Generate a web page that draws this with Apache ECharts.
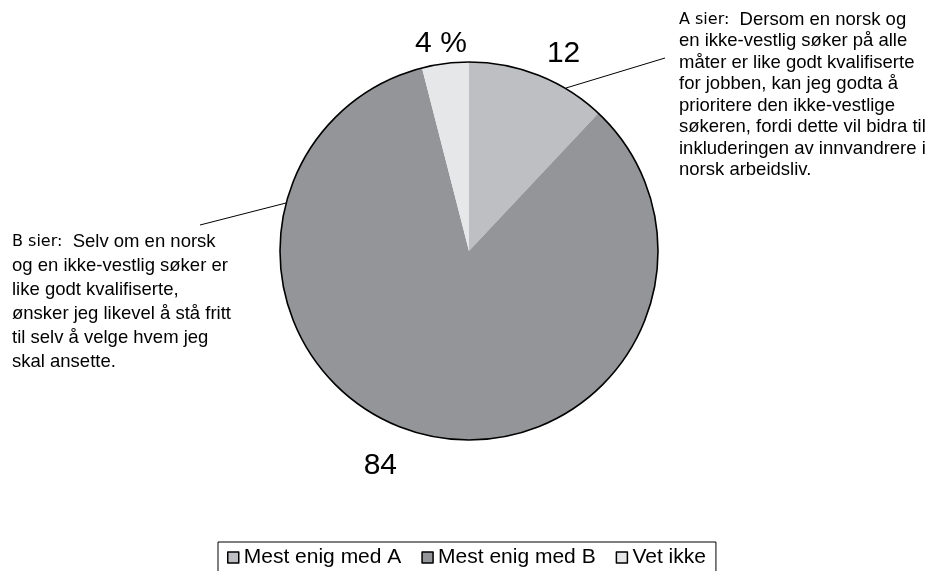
<!DOCTYPE html>
<html>
<head>
<meta charset="utf-8">
<style>
  html, body { margin: 0; padding: 0; background: #fff; }
  #chart { width: 928px; height: 571px; }
</style>
<script src="https://cdn.jsdelivr.net/npm/echarts@6/dist/echarts.min.js"></script>
</head>
<body>
<div id="chart"></div>
<script>
// data
var categories = ['Mest enig med A', 'Mest enig med B', 'Vet ikke'];
var shares = [12, 84, 4];
var shareLabels = ['12', '84', '4 %'];

var textA = [
  '{h|A sier:}  Dersom en norsk og',
  'en ikke-vestlig søker på alle',
  'måter er like godt kvalifiserte',
  'for jobben, kan jeg godta å',
  'prioritere den ikke-vestlige',
  'søkeren, fordi dette vil bidra til',
  'inkluderingen av innvandrere i',
  'norsk arbeidsliv.'
];
var textB = [
  '{h|B sier:}  Selv om en norsk',
  'og en ikke-vestlig søker er',
  'like godt kvalifiserte,',
  'ønsker jeg likevel å stå fritt',
  'til selv å velge hvem jeg',
  'skal ansette.'
];

// styles
var sliceColors = ['#bebfc2', '#939598', '#e6e7e8'];
var labelShift = [[1, -3], [-20, 12], [24, 0]];
var fontMain = 'Liberation Sans, Arial, sans-serif';

var chart = echarts.init(document.getElementById('chart'));

var pieData = categories.map(function (name, i) {
  return { name: name, value: shares[i], itemStyle: { color: sliceColors[i] } };
});

chart.setOption({
  backgroundColor: '#fff',
  animation: false,
  legend: {
    data: categories,
    left: 218,
    top: 542,
    orient: 'horizontal',
    icon: 'rect',
    itemWidth: 11,
    itemHeight: 11,
    itemGap: 20,
    padding: [5, 10, 10, 9],
    borderColor: '#000',
    borderWidth: 1,
    itemStyle: { borderColor: '#000', borderWidth: 1.5 },
    textStyle: { fontSize: 21, color: '#000', fontFamily: fontMain }
  },
  series: [
    {
      name: 'andel',
      type: 'pie',
      center: [469, 251],
      radius: 189,
      startAngle: 90,
      clockwise: true,
      avoidLabelOverlap: false,
      label: {
        show: true,
        position: 'outside',
        alignTo: 'none',
        distanceToLabelLine: 0,
        fontSize: 30,
        color: '#000',
        fontFamily: fontMain,
        formatter: function (p) { return shareLabels[p.dataIndex]; }
      },
      labelLine: { show: false, length: 20, length2: 0 },
      labelLayout: function (p) {
        var s = labelShift[p.dataIndex];
        return { dx: s[0], dy: s[1] };
      },
      emphasis: { disabled: true },
      data: pieData
    },
    {
      // outer outline of the pie
      name: 'ramme',
      type: 'pie',
      center: [469, 251],
      radius: 189,
      silent: true,
      label: { show: false },
      labelLine: { show: false },
      itemStyle: { color: 'rgba(0,0,0,0)', borderColor: '#000', borderWidth: 1.6 },
      emphasis: { disabled: true },
      data: [{ name: 'total', value: shares.reduce(function (a, b) { return a + b; }, 0) }]
    }
  ],
  graphic: [
    {
      type: 'line',
      shape: { x1: 566, y1: 88, x2: 665, y2: 58 },
      style: { stroke: '#000', lineWidth: 1 },
      silent: true
    },
    {
      type: 'line',
      shape: { x1: 200, y1: 225, x2: 286, y2: 203 },
      style: { stroke: '#000', lineWidth: 1 },
      silent: true
    },
    {
      type: 'text',
      left: 679,
      top: 9,
      silent: true,
      style: {
        text: textA.join('\n'),
        fill: '#000',
        font: '18.5px ' + fontMain,
        lineHeight: 21.5,
        rich: {
          h: { fontFamily: 'DejaVu Sans', fontSize: 16, lineHeight: 21.5, fill: '#000' }
        }
      }
    },
    {
      type: 'text',
      left: 12,
      top: 230,
      silent: true,
      style: {
        text: textB.join('\n'),
        fill: '#000',
        font: '18.5px ' + fontMain,
        lineHeight: 24,
        rich: {
          h: { fontFamily: 'DejaVu Sans', fontSize: 16, lineHeight: 24, fill: '#000' }
        }
      }
    }
  ]
});
</script>
</body>
</html>
